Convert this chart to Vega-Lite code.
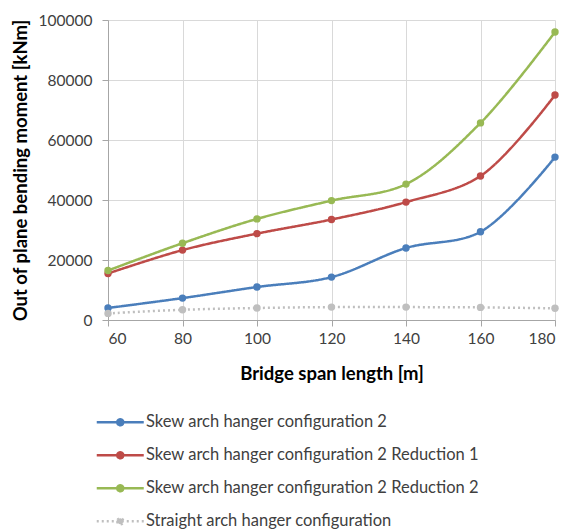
{
  "$schema": "https://vega.github.io/schema/vega-lite/v6.json",
  "width": 447,
  "height": 300,
  "autosize": {"type": "none"},
  "padding": {"left": 108, "top": 20, "right": 14, "bottom": 212},
  "background": "white",
  "config": {
    "font": "Lato",
    "view": {"stroke": null},
    "axis": {
      "labelFont": "Lato",
      "labelFontSize": 15.5,
      "labelColor": "#404040",
      "titleFont": "Lato",
      "titleFontSize": 18.5,
      "titleFontWeight": "bold",
      "titleColor": "#000000",
      "gridColor": "#d9d9d9",
      "domainColor": "#a6a6a6",
      "tickColor": "#a6a6a6",
      "tickSize": 6
    }
  },
  "data": {
    "values": [
      {"span": 60, "moment": 4000, "series": "Skew arch hanger configuration 2"},
      {"span": 80, "moment": 7300, "series": "Skew arch hanger configuration 2"},
      {"span": 100, "moment": 11000, "series": "Skew arch hanger configuration 2"},
      {"span": 120, "moment": 14300, "series": "Skew arch hanger configuration 2"},
      {"span": 140, "moment": 24000, "series": "Skew arch hanger configuration 2"},
      {"span": 160, "moment": 29400, "series": "Skew arch hanger configuration 2"},
      {"span": 180, "moment": 54300, "series": "Skew arch hanger configuration 2"},
      {"span": 60, "moment": 15500, "series": "Skew arch hanger configuration 2 Reduction 1"},
      {"span": 80, "moment": 23300, "series": "Skew arch hanger configuration 2 Reduction 1"},
      {"span": 100, "moment": 28800, "series": "Skew arch hanger configuration 2 Reduction 1"},
      {"span": 120, "moment": 33500, "series": "Skew arch hanger configuration 2 Reduction 1"},
      {"span": 140, "moment": 39300, "series": "Skew arch hanger configuration 2 Reduction 1"},
      {"span": 160, "moment": 48000, "series": "Skew arch hanger configuration 2 Reduction 1"},
      {"span": 180, "moment": 75000, "series": "Skew arch hanger configuration 2 Reduction 1"},
      {"span": 60, "moment": 16500, "series": "Skew arch hanger configuration 2 Reduction 2"},
      {"span": 80, "moment": 25600, "series": "Skew arch hanger configuration 2 Reduction 2"},
      {"span": 100, "moment": 33700, "series": "Skew arch hanger configuration 2 Reduction 2"},
      {"span": 120, "moment": 39800, "series": "Skew arch hanger configuration 2 Reduction 2"},
      {"span": 140, "moment": 45300, "series": "Skew arch hanger configuration 2 Reduction 2"},
      {"span": 160, "moment": 65700, "series": "Skew arch hanger configuration 2 Reduction 2"},
      {"span": 180, "moment": 96000, "series": "Skew arch hanger configuration 2 Reduction 2"},
      {"span": 60, "moment": 2200, "series": "Straight arch hanger configuration"},
      {"span": 80, "moment": 3400, "series": "Straight arch hanger configuration"},
      {"span": 100, "moment": 4000, "series": "Straight arch hanger configuration"},
      {"span": 120, "moment": 4300, "series": "Straight arch hanger configuration"},
      {"span": 140, "moment": 4300, "series": "Straight arch hanger configuration"},
      {"span": 160, "moment": 4200, "series": "Straight arch hanger configuration"},
      {"span": 180, "moment": 3900, "series": "Straight arch hanger configuration"}
    ]
  },
  "encoding": {
    "x": {
      "field": "span", "type": "quantitative",
      "scale": {"domain": [60, 180], "nice": false, "zero": false},
      "axis": {"values": [60, 80, 100, 120, 140, 160, 180], "title": "Bridge span length [m]", "labelPadding": 5, "titlePadding": 18}
    },
    "y": {
      "field": "moment", "type": "quantitative",
      "scale": {"domain": [0, 100000], "nice": false},
      "axis": {"values": [0, 20000, 40000, 60000, 80000, 100000], "format": "d", "title": "Out of plane bending moment [kNm]", "labelPadding": 10, "titlePadding": 8}
    },
    "color": {
      "field": "series", "type": "nominal",
      "scale": {
        "domain": ["Skew arch hanger configuration 2", "Skew arch hanger configuration 2 Reduction 1", "Skew arch hanger configuration 2 Reduction 2", "Straight arch hanger configuration"],
        "range": ["#4a7ebb", "#be4b48", "#98b954", "#bfbfbf"]
      },
      "legend": {
        "title": null,
        "orient": "none",
        "direction": "vertical",
        "legendX": 4,
        "legendY": 394,
        "padding": 0,
        "labelFont": "Lato",
        "labelFontSize": 16.5,
        "labelColor": "#404040",
        "labelLimit": 0,
        "labelOffset": 17.5,
        "rowPadding": 16,
        "symbolSize": 100,
        "symbolStrokeWidth": 2.5,
        "symbolType": "M-4.7,0H4.7M-0.6,0a0.6,0.6 0 1,0 1.2,0a0.6,0.6 0 1,0 -1.2,0",
        "encode": {"symbols": {"update": {"fill": {"scale": "color", "field": "value"}}}}
      }
    }
  },
  "layer": [
    {
      "mark": {"type": "line", "interpolate": "catmull-rom", "strokeWidth": 2.5},
      "encoding": {
        "strokeDash": {
          "field": "series", "type": "nominal",
          "scale": {
            "domain": ["Skew arch hanger configuration 2", "Skew arch hanger configuration 2 Reduction 1", "Skew arch hanger configuration 2 Reduction 2", "Straight arch hanger configuration"],
            "range": [[1, 0], [1, 0], [1, 0], [2, 3]]
          },
          "legend": null
        }
      }
    },
    {
      "mark": {"type": "point", "filled": true, "size": 55, "opacity": 1},
      "encoding": {}
    }
  ]
}
